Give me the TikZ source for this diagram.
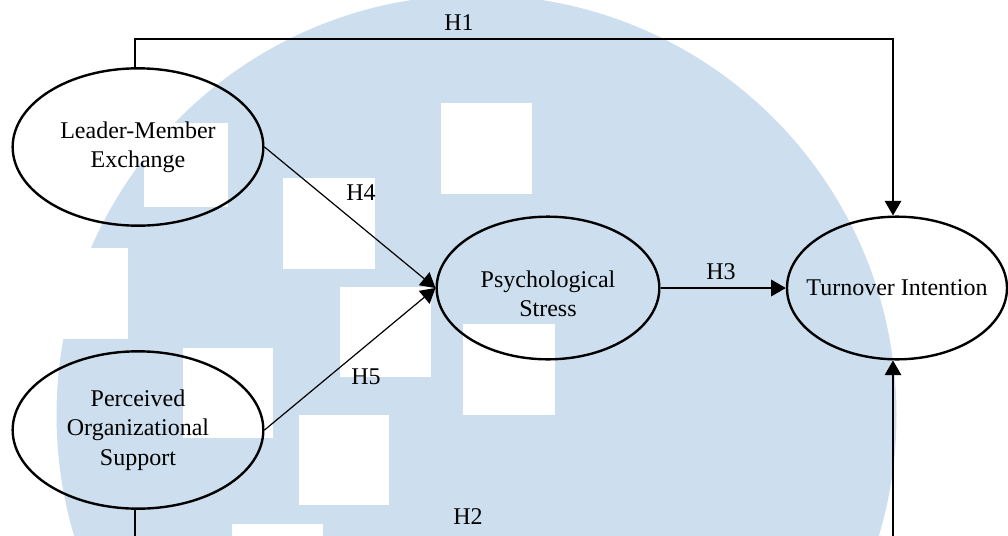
\documentclass[tikz,border=0pt]{standalone}
\usepackage{fontspec}
\setmainfont{Liberation Serif}
\usetikzlibrary{shapes.geometric,arrows.meta}
\definecolor{wm}{RGB}{205,223,238}
\begin{document}
\begin{tikzpicture}[x=0.75pt,y=-0.75pt,
  ell/.style={draw=black, line width=1.8pt, ellipse, inner xsep=-15pt, inner ysep=0pt, align=center, font=\fontsize{18}{22}\selectfont},
  lbl/.style={font=\fontsize{18}{22}\selectfont, inner sep=0pt},
  conn/.style={draw=black, line width=0.9pt},
  arr/.style={conn, -{Triangle[length=11pt,width=12.5pt]}},
  wbox/.style={fill=white, draw=none}]
\useasboundingbox (0,0) rectangle (1008,536);
\clip (0,0) rectangle (1008,536);
% watermark
\fill[wm] (476.5,415) circle[radius=420];
\fill[wbox] (441,103) rectangle (532,194);
\fill[wbox] (283,178) rectangle (375,269);
\fill[wbox] (340,287) rectangle (431,377);
\fill[wbox] (463,324) rectangle (555,415);
\fill[wbox] (299,415) rectangle (389,505);
\fill[wbox] (232,524) rectangle (323,615);
\fill[wbox] (183,348) rectangle (273,438);
\fill[wbox] (144,123) rectangle (228,207);
\fill[wbox] (0,248) rectangle (128,339);
% nodes
\node[ell, minimum width=188pt, minimum height=118pt] (LMX) at (138,147) {Leader-Member\\Exchange};
\node[ell, minimum width=188pt, minimum height=118pt] (POS) at (138,430) {Perceived\\Organizational\\Support};
\node[ell, minimum width=167pt, minimum height=107pt] (PS) at (548,288) {\rule{0pt}{21.5pt}Psychological\\Stress};
\node[ell, minimum width=165pt, minimum height=107pt] (TI) at (897,288) {Turnover Intention};
% labels
\node[lbl] (h1) at (459,23) {H1};
\node[lbl] (h2) at (468,517) {H2};
\node[lbl] (h3) at (721,272) {H3};
\node[lbl] (h4) at (361,193) {H4};
\node[lbl] (h5) at (366,377) {H5};
% connectors
\coordinate (top) at (0,39);
\coordinate (bot) at (0,560);
\coordinate (h1s) at ([xshift=-2.25pt]LMX.north);
\coordinate (h2s) at ([xshift=-2.25pt]POS.south);
\coordinate (h1e) at ([xshift=-3pt]TI.north);
\coordinate (h2e) at ([xshift=-3pt]TI.south);
\draw[arr] (h1s) -- (h1s |- top) -| (h1e);
\draw[arr] (h2s) -- (h2s |- bot) -| (h2e);
\draw[arr] (PS.east) -- (TI.west);
\draw[arr] (LMX.east) -- (PS.west);
\draw[arr] (POS.east) -- (PS.west);
\end{tikzpicture}
\end{document}
